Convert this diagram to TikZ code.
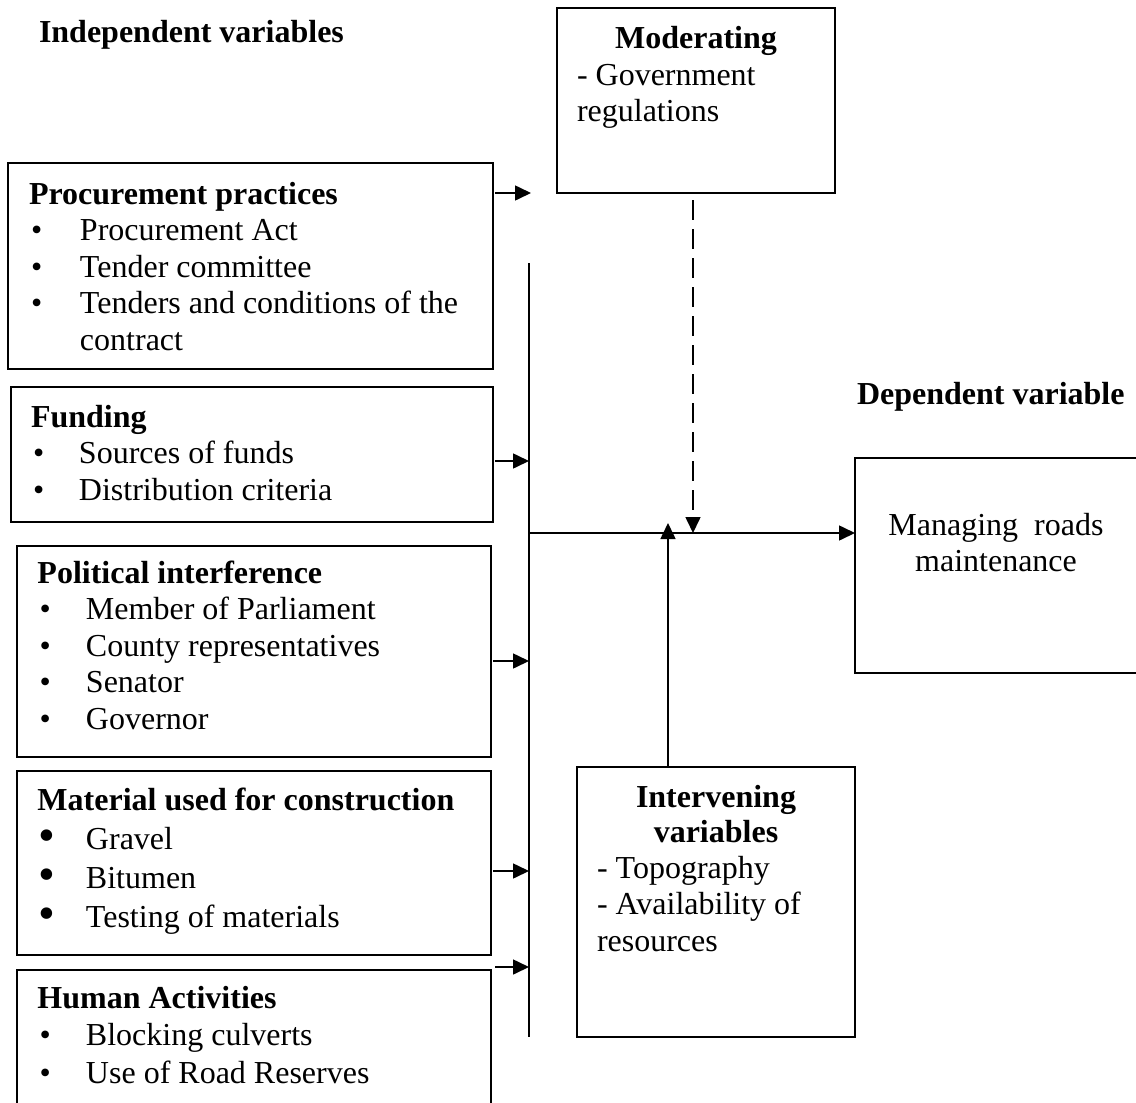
\documentclass[tikz,border=0pt]{standalone}
\usepackage{fontspec}
\setmainfont{Liberation Serif}
\usepackage{graphicx}
\usetikzlibrary{arrows.meta}
\newcommand\mylines[2]{\begin{tabular}[t]{@{}#1@{}}#2\end{tabular}}
\newcommand\bul[1][50pt]{\makebox[#1][l]{\hspace{2pt}\textbullet}}
\newcommand\bigbul[1][48.5pt]{\makebox[#1][l]{\hspace{1.5pt}\raisebox{-2.5pt}{\scalebox{1.5}{\textbullet}}}}
\tikzset{
  box/.style={draw, line width=1.6pt, outer sep=0pt, inner sep=0pt, anchor=north west},
  txt/.style={inner sep=0pt, outer sep=0pt, font=\fontsize{32}{36.5}\selectfont},
  link/.style={line width=1.6pt},
  arr/.style={line width=1.6pt, -{Triangle[length=16pt,width=15pt]}},
}
\begin{document}
\begin{tikzpicture}[x=1pt,y=-1pt]
\clip (0,0) rectangle (1136,1103);
\useasboundingbox (0,0) rectangle (1136,1103);
% boxes
\node[box, minimum width=485, minimum height=206] (proc) at (8,163) {};
\node[box, minimum width=482, minimum height=135] (fund) at (11,387) {};
\node[box, minimum width=474, minimum height=211] (pol) at (17,546) {};
\node[box, minimum width=474, minimum height=184] (mat) at (17,771) {};
\node[box, minimum width=474, minimum height=170] (hum) at (17,970) {};
\node[box, minimum width=278, minimum height=185] (mod) at (557,8) {};
\node[box, minimum width=290, minimum height=215] (man) at (855,458) {};
\node[box, minimum width=278, minimum height=270] (int) at (577,767) {};
% headings
\node[txt, anchor=base west] (indep) at (39,42) {\textbf{Independent variables}};
\node[txt, anchor=base west] (dep) at (857,404) {\textbf{Dependent variable}};
% texts
\node[txt, anchor=base west] (procT) at (29,204) {\mylines{l}{\textbf{Procurement practices}\\
  \bul[51pt]Procurement Act\\ \bul[51pt]Tender committee\\ \bul[51pt]Tenders and conditions of the\\ \makebox[51pt]{}contract}};
\node[txt, anchor=base west] (fundT) at (31,427) {\mylines{l}{\textbf{Funding}\\
  \bul[48pt]Sources of funds\\ \bul[48pt]Distribution criteria}};
\node[txt, anchor=base west] (polT) at (37.5,583) {\mylines{l}{\textbf{Political interference}\\
  \bul[48.5pt]Member of Parliament\\ \bul[48.5pt]County representatives\\ \bul[48.5pt]Senator\\ \bul[48.5pt]Governor}};
\node[txt, anchor=base west, font=\fontsize{32}{39}\selectfont] (matT) at (37.5,810) {\mylines{l}{\textbf{Material used for construction}\\
  \bigbul Gravel\\ \bigbul Bitumen\\ \bigbul Testing of materials}};
\node[txt, anchor=base west, font=\fontsize{32}{37.5}\selectfont] (humT) at (37.5,1008) {\mylines{l}{\textbf{Human Activities}\\
  \bul[48.5pt]Blocking culverts\\ \bul[48.5pt]Use of Road Reserves}};
\node[txt, anchor=base] (modT) at (696,48) {\textbf{Moderating}};
\node[txt, anchor=base west] (modB) at (577,85) {\mylines{l}{- Government\\regulations}};
\node[txt, anchor=base, font=\fontsize{32}{35.5}\selectfont] (intT) at (716,807) {\mylines{c}{\textbf{Intervening}\\\textbf{variables}}};
\node[txt, anchor=base west] (intB) at (597,878) {\mylines{l}{- Topography\\- Availability of\\resources}};
\node[txt, anchor=base] (manT) at (996,535) {\mylines{c}{Managing\ \ roads\\maintenance}};
% connector points
\coordinate (pa) at (531,193);
\coordinate (vtop) at (529,263);
\coordinate (vbot) at (529,1037);
\coordinate (v1) at (529,461);
\coordinate (v2) at (529,661);
\coordinate (v3) at (529,871);
\coordinate (v4) at (529,967);
\coordinate (vm) at (529,533);
\coordinate (dd) at (693,533);
\coordinate (ua) at (668,523);
% connectors
\draw[arr] ([xshift=2pt]proc.east |- pa) -- (pa);
\draw[link] (vtop) -- (vbot);
\draw[arr] ([xshift=2pt]fund.east |- v1) -- (v1);
\draw[arr] ([xshift=2pt]pol.east |- v2) -- (v2);
\draw[arr] ([xshift=2pt]mat.east |- v3) -- (v3);
\draw[arr] ([xshift=4pt]hum.east |- v4) -- (v4);
\draw[arr] (vm) -- (man.west |- vm);
\draw[arr, dash pattern=on 20pt off 9pt] ([yshift=-7pt]dd |- mod.south) -- (dd);
\draw[arr] (ua |- int.north) -- (ua);
\end{tikzpicture}
\end{document}
